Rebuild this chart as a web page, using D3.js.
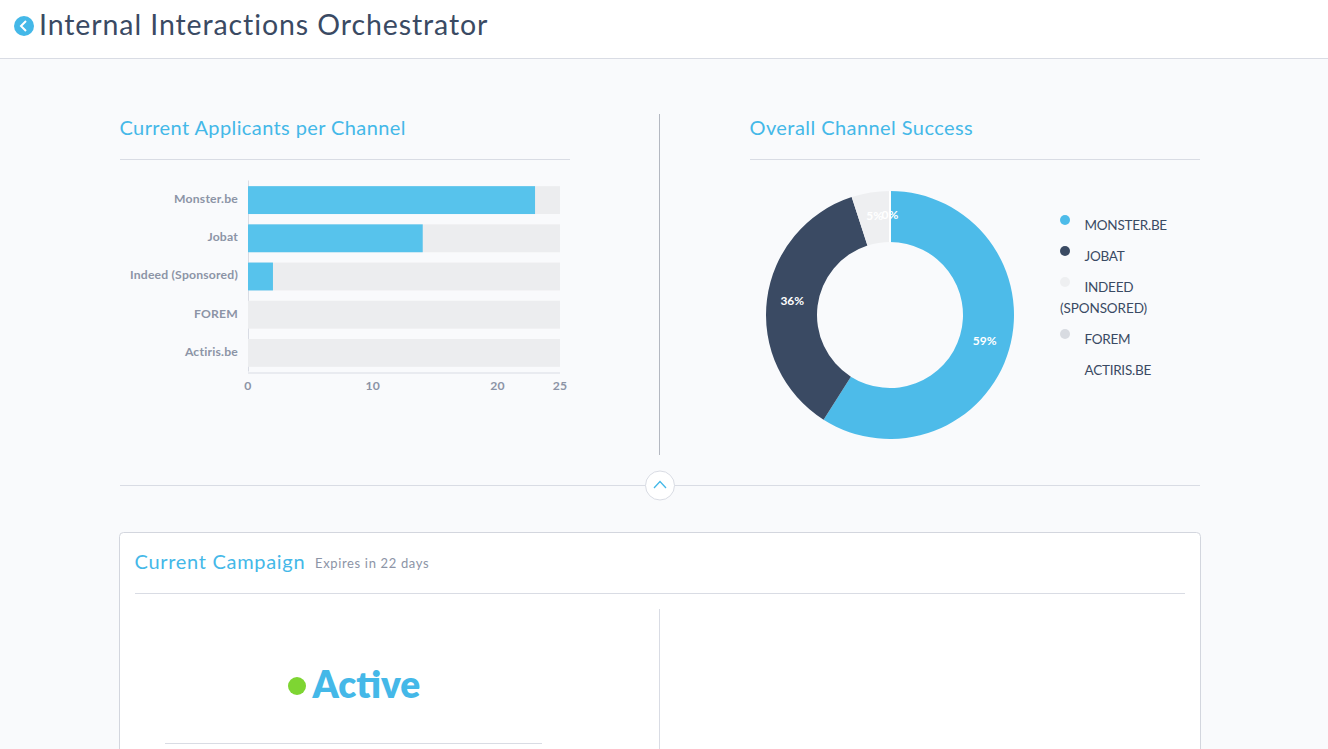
<!DOCTYPE html>
<html>

<head>
    <title>Internal Interactions Orchestrator</title>
    <style>
        html, body { margin: 0; padding: 0; background: #f9fafc; overflow: hidden; }
        svg { display: block; font-family: Lato, sans-serif; }
    </style>
    <script src="https://d3js.org/d3.v7.min.js"></script>
</head>

<body>
    <svg width="1328" height="749"></svg>

    <script>
        var channels = ["Monster.be", "Jobat", "Indeed (Sponsored)", "FOREM", "Actiris.be"];
        var applicants = [23, 14, 2, 0, 0];
        var maxApplicants = [25, 25, 25, 25, 25];
        var xTicks = [0, 10, 20, 25];

        var legendLabels = ["MONSTER.BE", "JOBAT", "INDEED (SPONSORED)", "FOREM", "ACTIRIS.BE"];
        var successShare = [59, 36, 5, 0, 0];
        var sliceColors = ["#4dbbe9", "#3a4a63", "#eeeff1", "#d8dbe1", "#ffffff"];

        var blue = "#44b8e8", navy = "#3a4a63", grey = "#8c94a6", rule = "#d9dce4";

        var svg = d3.select("svg");

        function hline(x1, x2, y, color) {
            svg.append("line").attr("x1", x1).attr("x2", x2).attr("y1", y).attr("y2", y).attr("stroke", color || rule);
        }
        function vline(x, y1, y2, color) {
            svg.append("line").attr("x1", x).attr("x2", x).attr("y1", y1).attr("y2", y2).attr("stroke", color || rule);
        }
        function label(x, y, str, size, color, weight) {
            return svg.append("text").attr("x", x).attr("y", y).text(str)
                .attr("font-size", size).attr("fill", color).attr("font-weight", weight || 400);
        }

        // page furniture
        svg.append("rect").attr("width", 1328).attr("height", 58).attr("fill", "#fff");
        hline(0, 1328, 58.5);
        svg.append("circle").attr("cx", 24).attr("cy", 26).attr("r", 10).attr("fill", blue);
        svg.append("path").attr("d", "M26,21 L21,26 L26,31").attr("fill", "none").attr("stroke", "#fff").attr("stroke-width", 2);
        label(39, 35, "Internal Interactions Orchestrator", 28.5, navy).attr("letter-spacing", 0.9);

        label(119.5, 135, "Current Applicants per Channel", 20, blue).attr("letter-spacing", 0.4);
        label(749.5, 135, "Overall Channel Success", 20, blue).attr("letter-spacing", 0.43);
        hline(120, 570, 159.5);
        hline(750, 1200, 159.5);
        vline(659.5, 114, 455, "#b4b8c1");
        hline(120, 1200, 485.5);
        svg.append("circle").attr("cx", 660).attr("cy", 485.5).attr("r", 14.5).attr("fill", "#fff").attr("stroke", rule);
        svg.append("path").attr("d", "M654,488 L660,481.5 L666,488").attr("fill", "none").attr("stroke", blue).attr("stroke-width", 1.3);

        // bar chart
        var x = d3.scaleLinear().domain([0, 25]).range([248, 560]);
        var y = d3.scaleBand().domain(channels).range([181, 372]).paddingInner(0.27).paddingOuter(0.135);

        var xAxis = svg.append("g").attr("transform", "translate(-0.5,372.5)")
            .call(d3.axisBottom(x).tickValues(xTicks).tickSize(0).tickPadding(9));
        var yAxis = svg.append("g").attr("transform", "translate(248,-1)")
            .call(d3.axisLeft(y).tickSize(0).tickPadding(10));
        [xAxis, yAxis].forEach(function (a) {
            a.select(".domain").attr("stroke", rule);
            a.selectAll("text").attr("fill", grey).attr("font-size", 12.2).attr("font-weight", 700)
                .attr("letter-spacing", 0.2).attr("font-family", "Lato, sans-serif");
        });

        svg.append("g").selectAll("rect").data(maxApplicants).enter().append("rect")
            .attr("x", x(0))
            .attr("y", function (d, i) { return y(channels[i]); })
            .attr("width", function (d) { return x(d) - x(0); })
            .attr("height", y.bandwidth())
            .attr("fill", "#ecedef");

        svg.append("g").selectAll("rect").data(applicants).enter().append("rect")
            .attr("x", x(0))
            .attr("y", function (d, i) { return y(channels[i]); })
            .attr("width", function (d) { return x(d) - x(0); })
            .attr("height", y.bandwidth())
            .attr("fill", "#57c3ec");

        // donut
        var pie = d3.pie().sort(null).startAngle(0).endAngle(2 * Math.PI);
        var arc = d3.arc().innerRadius(73).outerRadius(124);
        var donut = svg.append("g").attr("transform", "translate(890,315)");

        donut.selectAll("path").data(pie(successShare)).enter().append("path")
            .attr("d", arc)
            .attr("fill", function (d, i) { return sliceColors[i]; })
            .attr("stroke", "#fff")
            .attr("stroke-width", function (d) { return d.value === 0 ? 2 : 0; });

        donut.selectAll("text").data(pie(successShare).slice(0, 4)).enter().append("text")
            .attr("transform", function (d) { return "translate(" + arc.centroid(d) + ")"; })
            .attr("text-anchor", "middle")
            .attr("dy", "0.2em")
            .attr("font-size", 12)
            .attr("font-weight", 700)
            .attr("fill", "#fff")
            .text(function (d) { return d.value + "%"; });

        // legend, the long label wraps onto a second row
        var legendY = d3.scaleOrdinal().domain(legendLabels).range([230, 261, 292, 344, 375]);
        legendLabels.forEach(function (name, i) {
            var row = legendY(name);
            if (i < 4) {
                svg.append("circle").attr("cx", 1065).attr("cy", row - 10).attr("r", 5).attr("fill", sliceColors[i]);
            }
            var parts = name.split(" ");
            label(1084.5, row, parts[0], 13.5, navy).attr("letter-spacing", -0.25);
            if (parts[1]) label(1060, row + 21, parts[1], 13.5, navy).attr("letter-spacing", -0.1);
        });

        // campaign card
        svg.append("rect").attr("x", 119.5).attr("y", 532.5).attr("width", 1081).attr("height", 240).attr("rx", 4)
            .attr("fill", "#fff").attr("stroke", "#d3d6de");
        label(134.5, 569, "Current Campaign", 20, blue).attr("letter-spacing", 0.7);
        label(315, 568, "Expires in 22 days", 13, grey).attr("letter-spacing", 0.65);
        hline(135, 1185, 593.5);
        vline(659.5, 609, 749);
        svg.append("circle").attr("cx", 297).attr("cy", 686).attr("r", 9).attr("fill", "#7ed532");
        label(312.5, 698, "Active", 37, blue, 800);
        hline(165, 542, 743.5);
    </script>
</body>

</html>
